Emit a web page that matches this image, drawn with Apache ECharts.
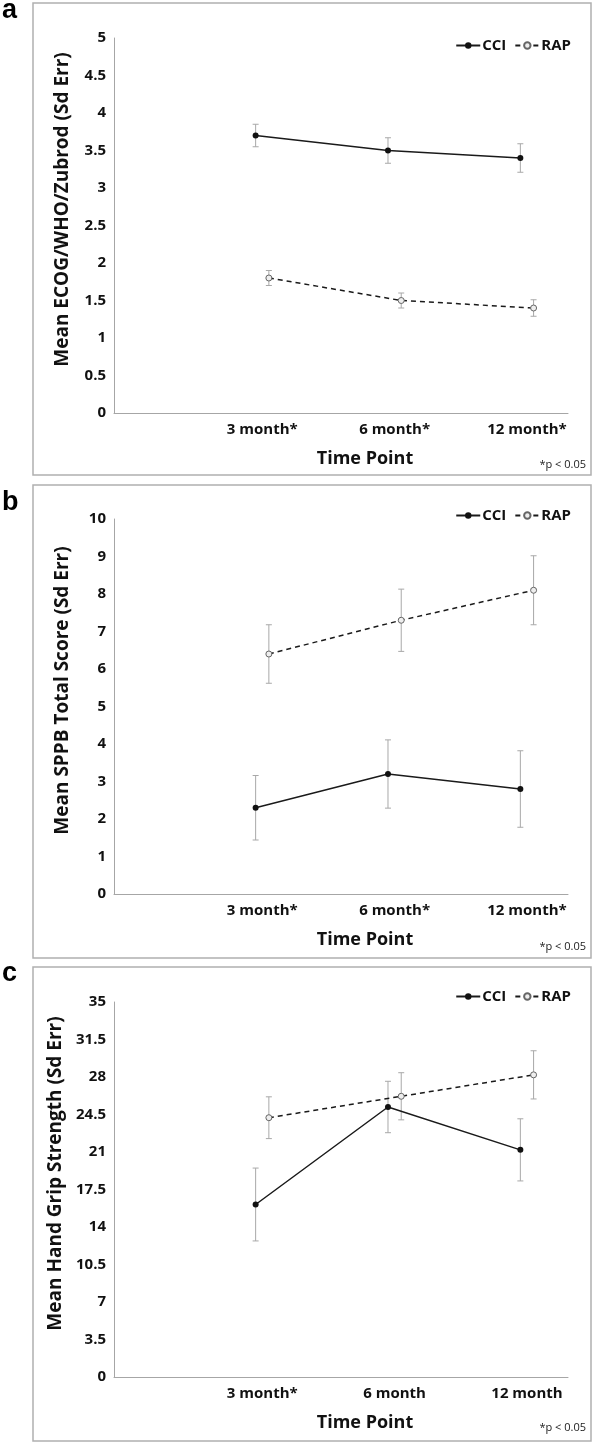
<!DOCTYPE html>
<html>
<head>
<meta charset="utf-8">
<script src="https://cdn.jsdelivr.net/npm/echarts@6/dist/echarts.min.js"></script>
<style>
html,body{margin:0;padding:0;background:#fff;}
#chart{width:596px;height:1443px;}
</style>
</head>
<body>
<div id="chart"></div>
<script>
// ---- data ----
const categoriesAB = ['3 month*', '6 month*', '12 month*'];
const categoriesC = ['3 month*', '6 month', '12 month'];
const seriesNames = ['CCI', 'RAP'];

const ecogCCI = [3.7, 3.5, 3.4];
const ecogCCIErr = [0.15, 0.17, 0.19];
const ecogRAP = [1.8, 1.5, 1.4];
const ecogRAPErr = [0.10, 0.10, 0.11];

const sppbCCI = [2.3, 3.2, 2.8];
const sppbCCIErr = [0.86, 0.91, 1.02];
const sppbRAP = [6.4, 7.3, 8.1];
const sppbRAPErr = [0.78, 0.83, 0.92];

const gripCCI = [16.1, 25.2, 21.2];
const gripCCIErr = [3.4, 2.4, 2.9];
const gripRAP = [24.2, 26.2, 28.2];
const gripRAPErr = [1.95, 2.2, 2.25];

const yTicksA = {min: 0, max: 5, interval: 0.5};
const yTicksB = {min: 0, max: 10, interval: 1};
const yTicksC = {min: 0, max: 35, interval: 3.5};

const yTitles = ['Mean ECOG/WHO/Zubrod (Sd Err)', 'Mean SPPB Total Score (Sd Err)', 'Mean Hand Grip Strength (Sd Err)'];
const xTitle = 'Time Point';
const noteText = '*p < 0.05';
const panelLetters = ['a', 'b', 'c'];

// ---- layout ----
const FONT = '"Open Sans", "Liberation Sans", sans-serif';
const gridTops = [38, 519, 1002];
const plotH = 375;
const boxes = [[33, 3, 558, 472], [33, 485, 558, 473], [33, 967, 558, 474]];
const letterY = [11, 503, 974];
const noteY = [465, 947, 1428];
const legendTops = [33, 503, 984];
const LABEL_OFF = 0.12, CCI_OFF = 0.07, RAP_OFF = 0.17;
const X_MAX = 3.43;

const panels = [
  {cats: categoriesAB, cci: ecogCCI, cciE: ecogCCIErr, rap: ecogRAP, rapE: ecogRAPErr, y: yTicksA},
  {cats: categoriesAB, cci: sppbCCI, cciE: sppbCCIErr, rap: sppbRAP, rapE: sppbRAPErr, y: yTicksB},
  {cats: categoriesC, cci: gripCCI, cciE: gripCCIErr, rap: gripRAP, rapE: gripRAPErr, y: yTicksC}
];

const grid = [], xAxis = [], yAxis = [], series = [], legend = [], graphic = [];

function errRender(params, api) {
  const x = api.value(0), lo = api.value(1), hi = api.value(2);
  const p1 = api.coord([x, lo]), p2 = api.coord([x, hi]);
  const w = 3;
  const st = {stroke: '#a8a8a8', lineWidth: 1};
  return {type: 'group', children: [
    {type: 'line', shape: {x1: p1[0], y1: p1[1], x2: p2[0], y2: p2[1]}, style: st},
    {type: 'line', shape: {x1: p1[0] - w, y1: p1[1], x2: p1[0] + w, y2: p1[1]}, style: st},
    {type: 'line', shape: {x1: p2[0] - w, y1: p2[1], x2: p2[0] + w, y2: p2[1]}, style: st}
  ]};
}

panels.forEach((p, i) => {
  grid.push({left: 114, right: 28, top: gridTops[i], height: plotH, containLabel: false});
  xAxis.push({
    type: 'value', gridIndex: i, min: 0, max: X_MAX,
    name: xTitle, nameLocation: 'middle', nameGap: 37,
    nameTextStyle: {fontFamily: FONT, fontWeight: 'bold', fontSize: 18, color: '#111', padding: [0, 0, 0, 48]},
    axisLine: {show: true, lineStyle: {color: '#a6a6a6', width: 1}},
    axisTick: {show: false},
    splitLine: {show: false},
    axisLabel: {
      customValues: p.cats.map((c, k) => k + 1 + LABEL_OFF),
      formatter: v => p.cats[Math.round(v - LABEL_OFF) - 1] || '',
      fontFamily: FONT, fontWeight: 'bold', fontSize: 15, color: '#111', margin: 9
    }
  });
  yAxis.push({
    type: 'value', gridIndex: i, min: p.y.min, max: p.y.max, interval: p.y.interval,
    name: yTitles[i], nameLocation: 'middle', nameGap: 42,
    nameTextStyle: {fontFamily: FONT, fontWeight: 'bold', fontSize: 19, color: '#111', padding: [0, 0, 0, 32]},
    axisLine: {show: true, lineStyle: {color: '#a6a6a6', width: 1}},
    axisTick: {show: false},
    splitLine: {show: false},
    axisLabel: {fontFamily: FONT, fontWeight: 'bold', fontSize: 15, color: '#111', margin: 8}
  });
  series.push({
    type: 'custom', xAxisIndex: i, yAxisIndex: i, renderItem: errRender, z: 1, silent: true,
    data: p.cci.map((v, k) => [k + 1 + CCI_OFF, v - p.cciE[k], v + p.cciE[k]])
  });
  series.push({
    type: 'custom', xAxisIndex: i, yAxisIndex: i, renderItem: errRender, z: 1, silent: true,
    data: p.rap.map((v, k) => [k + 1 + RAP_OFF, v - p.rapE[k], v + p.rapE[k]])
  });
  series.push({
    name: seriesNames[0], type: 'line', xAxisIndex: i, yAxisIndex: i, z: 3,
    data: p.cci.map((v, k) => [k + 1 + CCI_OFF, v]),
    symbol: 'circle', symbolSize: 6, showSymbol: true,
    lineStyle: {color: '#1a1a1a', width: 1.5, type: 'solid'},
    itemStyle: {color: '#111', borderColor: '#111', borderWidth: 0},
    animation: false
  });
  series.push({
    name: seriesNames[1], type: 'line', xAxisIndex: i, yAxisIndex: i, z: 3,
    data: p.rap.map((v, k) => [k + 1 + RAP_OFF, v]),
    symbol: 'circle', symbolSize: 6, showSymbol: true,
    lineStyle: {color: '#1a1a1a', width: 1.5, type: [5, 4]},
    itemStyle: {color: '#eeeeee', borderColor: '#666', borderWidth: 1},
    animation: false
  });
  legend.push({
    data: seriesNames, right: 20, top: legendTops[i], itemWidth: 24, itemHeight: 8, itemGap: 8,
    selectedMode: false,
    textStyle: {fontFamily: FONT, fontWeight: 'bold', fontSize: 15, color: '#111', padding: [0, 0, 0, -3]}
  });
  const b = boxes[i];
  graphic.push({type: 'rect', shape: {x: b[0], y: b[1], width: b[2], height: b[3]},
    style: {fill: 'none', stroke: '#b0b0b0', lineWidth: 1.5}, silent: true});
  graphic.push({type: 'text', x: 2, y: letterY[i],
    style: {text: panelLetters[i], font: 'bold 27px "Liberation Sans", Arial, sans-serif', fill: '#000', textVerticalAlign: 'middle'}});
  graphic.push({type: 'text', x: 586, y: noteY[i],
    style: {text: noteText, font: '11px ' + FONT, fill: '#222', textAlign: 'right', textVerticalAlign: 'middle'}});
});

const chart = echarts.init(document.getElementById('chart'), null, {renderer: 'canvas'});
chart.setOption({
  backgroundColor: '#fff',
  animation: false,
  grid, xAxis, yAxis, series, legend, graphic
});
</script>
</body>
</html>
